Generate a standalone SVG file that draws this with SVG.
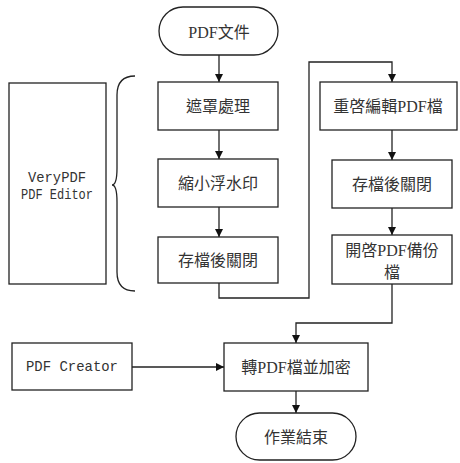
<svg xmlns="http://www.w3.org/2000/svg" width="460" height="463" viewBox="0 0 460 463">
<defs>
<marker id="ah" markerWidth="10" markerHeight="10" refX="9" refY="5" orient="auto" markerUnits="userSpaceOnUse">
<path d="M1,1 L9,5 L1,9 Z" fill="#111"/>
</marker>
<style>
.box{fill:#fff;stroke:#222;stroke-width:1.3}
.t{font-family:"Liberation Serif","Noto Sans CJK TC",serif;font-size:16px;fill:#333;text-anchor:middle;dominant-baseline:central}
.m{font-family:"Liberation Mono","Noto Sans CJK TC",monospace;font-size:15px;fill:#333;text-anchor:middle;dominant-baseline:central}
.c{fill:none;stroke:#222;stroke-width:1.3}
</style>
</defs>
<rect width="460" height="463" fill="#fff"/>
<g id="connectors">
<line class="c" x1="219" y1="55" x2="219" y2="82" marker-end="url(#ah)"/>
<line class="c" x1="219" y1="130" x2="219" y2="159" marker-end="url(#ah)"/>
<line class="c" x1="219" y1="207" x2="219" y2="237" marker-end="url(#ah)"/>
<polyline class="c" points="219,283 219,298 309,298 309,62 392,62 392,82" marker-end="url(#ah)"/>
<line class="c" x1="392" y1="130" x2="392" y2="160" marker-end="url(#ah)"/>
<line class="c" x1="392" y1="208" x2="392" y2="235" marker-end="url(#ah)"/>
<polyline class="c" points="392,284 392,323 296,323 296,343" marker-end="url(#ah)"/>
<line class="c" x1="132" y1="367" x2="224" y2="367" marker-end="url(#ah)"/>
<line class="c" x1="296" y1="391" x2="296" y2="413" marker-end="url(#ah)"/>
<path class="c" d="M135,76 Q117,76 117,95 L117,168 Q117,185 112,185 Q117,185 117,202 L117,272 Q117,291 135,291"/>
</g>
<g id="start"><rect class="box" x="159" y="7" width="119" height="48" rx="24"/><text class="t" x="219" y="32">PDF文件</text></g>
<g id="mask"><rect class="box" x="158" y="82" width="120" height="48"/><text class="t" x="218" y="106">遮罩處理</text></g>
<g id="shrink"><rect class="box" x="158" y="159" width="120" height="48"/><text class="t" x="218" y="183">縮小浮水印</text></g>
<g id="save1"><rect class="box" x="158" y="237" width="120" height="46"/><text class="t" x="218" y="260">存檔後關閉</text></g>
<g id="reopen"><rect class="box" x="320" y="82" width="137" height="48"/><text class="t" x="388" y="106">重啓編輯PDF檔</text></g>
<g id="save2"><rect class="box" x="332" y="160" width="120" height="48"/><text class="t" x="392" y="184">存檔後關閉</text></g>
<g id="backup"><rect class="box" x="332" y="235" width="120" height="49"/><text class="t" x="392" y="250">開啓PDF備份</text><text class="t" x="392" y="272">檔</text></g>
<g id="editor"><rect class="box" x="9" y="83" width="97" height="201"/><text class="m" x="57" y="178" textLength="58" lengthAdjust="spacingAndGlyphs">VeryPDF</text><text class="m" x="57" y="195" textLength="72" lengthAdjust="spacingAndGlyphs">PDF Editor</text></g>
<g id="creator"><rect class="box" x="12" y="343" width="120" height="47"/><text class="m" x="72" y="367" textLength="92" lengthAdjust="spacingAndGlyphs">PDF Creator</text></g>
<g id="convert"><rect class="box" x="224" y="343" width="144" height="48"/><text class="t" x="296" y="367">轉PDF檔並加密</text></g>
<g id="end"><rect class="box" x="236" y="413" width="120" height="47" rx="23.5"/><text class="t" x="296" y="437">作業結束</text></g>
</svg>
